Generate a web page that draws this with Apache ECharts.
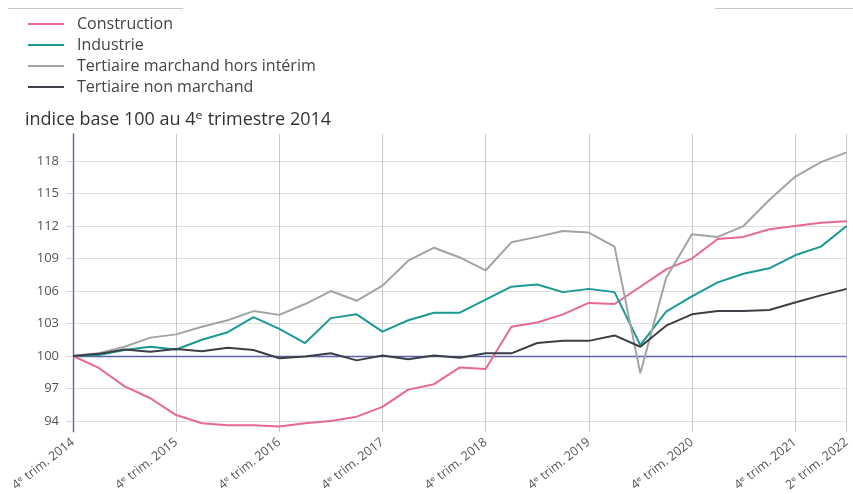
<!DOCTYPE html>
<html>
<head>
<meta charset="utf-8">
<script src="https://cdn.jsdelivr.net/npm/echarts@6/dist/echarts.min.js"></script>
<style>
  html, body { margin: 0; padding: 0; background: #fff; }
  #chart { width: 853px; height: 494px; }
</style>
</head>
<body>
<div id="chart"></div>
<script>
// Quarterly index, base 100 in Q4 2014
const quarters = [
  '4ᵉ trim. 2014', '1ᵉʳ trim. 2015', '2ᵉ trim. 2015', '3ᵉ trim. 2015',
  '4ᵉ trim. 2015', '1ᵉʳ trim. 2016', '2ᵉ trim. 2016', '3ᵉ trim. 2016',
  '4ᵉ trim. 2016', '1ᵉʳ trim. 2017', '2ᵉ trim. 2017', '3ᵉ trim. 2017',
  '4ᵉ trim. 2017', '1ᵉʳ trim. 2018', '2ᵉ trim. 2018', '3ᵉ trim. 2018',
  '4ᵉ trim. 2018', '1ᵉʳ trim. 2019', '2ᵉ trim. 2019', '3ᵉ trim. 2019',
  '4ᵉ trim. 2019', '1ᵉʳ trim. 2020', '2ᵉ trim. 2020', '3ᵉ trim. 2020',
  '4ᵉ trim. 2020', '1ᵉʳ trim. 2021', '2ᵉ trim. 2021', '3ᵉ trim. 2021',
  '4ᵉ trim. 2021', '1ᵉʳ trim. 2022', '2ᵉ trim. 2022'
];

const construction = [
  100, 98.9, 97.2, 96.1, 94.55, 93.8, 93.6, 93.6, 93.5, 93.8, 94.0,
  94.4, 95.3, 96.9, 97.4, 98.95, 98.8, 102.7, 103.1, 103.85, 104.9,
  104.8, 106.4, 108.0, 109.0, 110.8, 111.0, 111.7, 112.0, 112.3, 112.45
];
const industrie = [
  100, 100.1, 100.55, 100.86, 100.6, 101.5, 102.2, 103.6, 102.5, 101.2, 103.5,
  103.85, 102.25, 103.3, 104.0, 104.0, 105.2, 106.4, 106.6, 105.9, 106.2,
  105.9, 101.0, 104.1, 105.5, 106.8, 107.6, 108.1, 109.3, 110.1, 112.0
];
const tertiaireMarchand = [
  100, 100.25, 100.86, 101.7, 102.0, 102.7, 103.3, 104.15, 103.8, 104.8, 106.0,
  105.1, 106.5, 108.8, 110.0, 109.1, 107.9, 110.5, 111.0, 111.55, 111.4,
  110.1, 98.4, 107.2, 111.25, 111.0, 112.0, 114.4, 116.55, 117.9, 118.8
];
const tertiaireNonMarchand = [
  100, 100.2, 100.6, 100.4, 100.65, 100.45, 100.77, 100.55, 99.8, 99.95, 100.25,
  99.6, 100.05, 99.7, 100.05, 99.85, 100.25, 100.25, 101.2, 101.4, 101.4,
  101.9, 100.86, 102.8, 103.85, 104.15, 104.15, 104.25, 104.95, 105.6, 106.2
];

const yTicks = [94, 97, 100, 103, 106, 109, 112, 115, 118];
const baseLevel = 100;

const seriesDefs = [
  { name: 'Construction', data: construction, color: '#e8688f' },
  { name: 'Industrie', data: industrie, color: '#1c9994' },
  { name: 'Tertiaire marchand hors intérim', data: tertiaireMarchand, color: '#a3a3a3' },
  { name: 'Tertiaire non marchand', data: tertiaireNonMarchand, color: '#3b4046' }
];

const FONT = '"Open Sans", "DejaVu Sans", sans-serif';
const lastIndex = quarters.length - 1;
const yearlyTick = (i) => i % 4 === 0 || i === lastIndex;

const chart = echarts.init(document.getElementById('chart'), null, { renderer: 'canvas' });

const series = seriesDefs.map((s, k) => ({
  name: s.name,
  type: 'line',
  data: s.data,
  showSymbol: false,
  symbol: 'none',
  smooth: false,
  z: 3 + k,
  lineStyle: { color: s.color, width: 2 },
  itemStyle: { color: s.color },
  emphasis: { disabled: true }
}));

// Base-100 reference line
series[0].markLine = {
  silent: true,
  symbol: ['none', 'none'],
  label: { show: false },
  lineStyle: { color: '#5f5faa', width: 1.4, type: 'solid' },
  data: [{ yAxis: baseLevel }],
  z: 2
};

chart.setOption({
  animation: false,
  backgroundColor: '#ffffff',
  textStyle: { fontFamily: FONT },
  title: {
    text: 'indice base 100 au 4ᵉ trimestre 2014',
    left: 25,
    top: 111,
    padding: 0,
    textStyle: { fontFamily: FONT, fontSize: 18, fontWeight: 'normal', color: '#333' }
  },
  legend: {
    orient: 'vertical',
    left: 28,
    top: 16,
    padding: 0,
    itemWidth: 36,
    itemHeight: 2,
    itemGap: 5,
    icon: 'rect',
    selectedMode: false,
    textStyle: { fontFamily: FONT, fontSize: 16, color: '#444', lineHeight: 16, padding: [0, 0, 0, 8] },
    data: seriesDefs.map(s => s.name)
  },
  graphic: [
    { type: 'line', shape: { x1: 8, y1: 8.5, x2: 183, y2: 8.5 }, style: { stroke: '#c8c8c8', lineWidth: 1 } },
    { type: 'line', shape: { x1: 715, y1: 8.5, x2: 853, y2: 8.5 }, style: { stroke: '#c8c8c8', lineWidth: 1 } }
  ],
  grid: { left: 73, right: 4, top: 134, bottom: 62, containLabel: false },
  xAxis: {
    type: 'category',
    data: quarters,
    boundaryGap: false,
    axisLine: { show: false },
    axisTick: { show: false },
    axisLabel: {
      interval: (i) => yearlyTick(i),
      rotate: 38,
      fontSize: 12.5,
      color: '#555',
      margin: 9,
      fontFamily: FONT
    },
    splitLine: {
      show: true,
      interval: (i) => yearlyTick(i),
      lineStyle: { color: '#cacaca', width: 1 }
    }
  },
  yAxis: {
    type: 'value',
    min: 93,
    max: 120.5,
    axisLine: { show: true, onZero: false, lineStyle: { color: '#5f5faa', width: 1.4 } },
    axisTick: { show: true, length: 7, customValues: yTicks, lineStyle: { color: '#d8d8d8' } },
    axisLabel: { customValues: yTicks, fontSize: 13, color: '#555', margin: 14, fontFamily: FONT },
    splitLine: { show: true, lineStyle: { color: '#dedede', width: 1 } }
  },
  series: series
});
</script>
</body>
</html>
